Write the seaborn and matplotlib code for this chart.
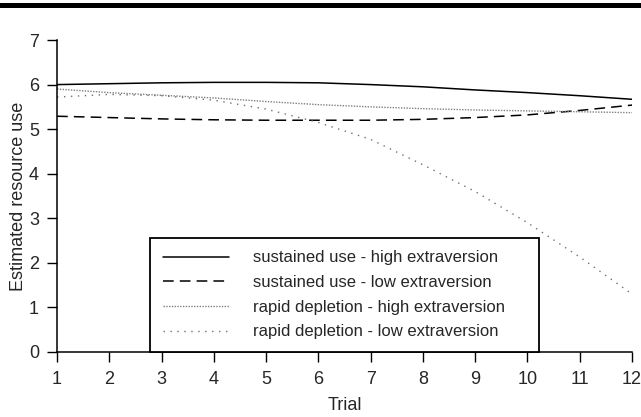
import numpy as np
import pandas as pd
import matplotlib
matplotlib.use("Agg")
import matplotlib.pyplot as plt
import seaborn as sns
from matplotlib.lines import Line2D

# values
trials = list(range(1, 13))
sustained_high = [6.00, 6.02, 6.04, 6.05, 6.05, 6.04, 6.00, 5.95, 5.88, 5.82, 5.75, 5.67]
sustained_low = [5.29, 5.26, 5.23, 5.21, 5.20, 5.20, 5.20, 5.22, 5.26, 5.32, 5.42, 5.54]
rapid_high = [5.90, 5.82, 5.76, 5.70, 5.62, 5.55, 5.50, 5.46, 5.43, 5.41, 5.39, 5.37]
rapid_low = [5.72, 5.78, 5.75, 5.65, 5.45, 5.15, 4.77, 4.20, 3.60, 2.90, 2.13, 1.30]

labels = [
    "sustained use - high extraversion",
    "sustained use - low extraversion",
    "rapid depletion - high extraversion",
    "rapid depletion - low extraversion",
]
series = [sustained_high, sustained_low, rapid_high, rapid_low]
styles = [
    dict(color="black", linestyle="-", linewidth=1.1),
    dict(color="black", linestyle=(0, (7, 4)), linewidth=1.1),
    dict(color="#808080", linestyle=(0, (1, 1)), linewidth=1.0),
    dict(color="#707070", linestyle=(0, (1, 4)), linewidth=1.0),
]

df = pd.concat(
    [pd.DataFrame({"Trial": trials, "value": vals, "group": lab})
     for lab, vals in zip(labels, series)],
    ignore_index=True,
)

sns.set_style("ticks")
plt.rcParams["font.family"] = ["Liberation Sans", "DejaVu Sans"]

fig = plt.figure(figsize=(6.41, 4.17), dpi=100)
ax = fig.add_axes([0.089, 0.156, 0.897, 0.748])

for lab, st in zip(labels, styles):
    sub = df[df["group"] == lab]
    sns.lineplot(data=sub, x="Trial", y="value", ax=ax, label=lab, **st)

ax.set_xlim(1, 12)
ax.set_ylim(0, 7)
ax.set_xticks(trials)
ax.set_yticks(range(0, 8))
ax.set_xlabel("Trial", fontsize=13, labelpad=6)
ax.set_ylabel("Estimated resource use", fontsize=13, labelpad=1.5)
ax.tick_params(axis="x", labelsize=13, length=7, width=1, pad=7,
               direction="out", color="black")
ax.tick_params(axis="y", labelsize=13, length=7, width=1, pad=6,
               direction="out", color="black")
for s in ["top", "right"]:
    ax.spines[s].set_visible(False)
for s in ["left", "bottom"]:
    ax.spines[s].set_color("black")
    ax.spines[s].set_linewidth(1.1)

leg = ax.legend(
    loc="lower left",
    bbox_to_anchor=(0.162, 0.0, 0.676, 0.369),
    mode="expand",
    fontsize=12,
    frameon=True,
    fancybox=False,
    framealpha=1,
    edgecolor="black",
    handlelength=4.0,
    handletextpad=1.4,
    labelspacing=0.58,
    borderpad=0.75,
    borderaxespad=0,
)
leg.get_frame().set_linewidth(1.3)

# thick rule across the top of the figure
fig.add_artist(Line2D([0, 1], [0.988, 0.988], transform=fig.transFigure,
                      color="black", linewidth=3.6))

fig.savefig("out.png", dpi=100)
